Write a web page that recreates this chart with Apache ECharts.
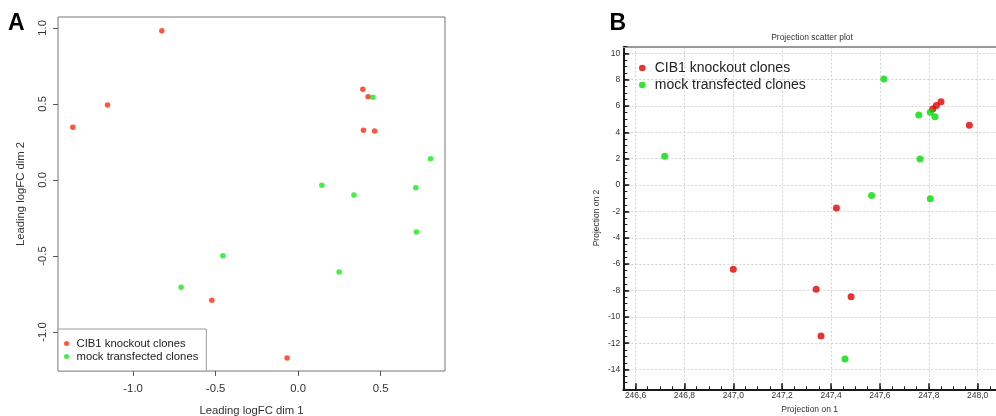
<!DOCTYPE html>
<html>
<head>
<meta charset="utf-8">
<script src="https://cdn.jsdelivr.net/npm/echarts@6/dist/echarts.min.js"></script>
<style>
  html, body { margin: 0; padding: 0; background: #fff; }
  #chart { width: 996px; height: 416px; }
</style>
</head>
<body>
<div id="chart"></div>
<script>
// panel A: MDS plot (leading logFC)
const koA = [[-0.826, 0.982], [-1.155, 0.493], [-1.365, 0.347], [0.392, 0.597], [0.424, 0.548],
  [0.396, 0.327], [0.463, 0.322], [-0.523, -0.792], [-0.067, -1.171]];
const mockA = [[0.453, 0.544], [0.802, 0.140], [0.144, -0.035], [0.338, -0.099], [0.713, -0.051],
  [0.717, -0.342], [0.248, -0.605], [-0.456, -0.498], [-0.709, -0.706]];
const ticksAX = [-1.0, -0.5, 0.0, 0.5];
const ticksAY = [-1.0, -0.5, 0.0, 0.5, 1.0];

// panel B: projection scatter plot
const koB = [[247.0, -6.39], [247.422, -1.74], [247.339, -7.90], [247.482, -8.48], [247.359, -11.46],
  [247.966, 4.54], [247.85, 6.33], [247.831, 6.03], [247.816, 5.78]];
const mockB = [[246.719, 2.195], [247.616, 8.05], [247.759, 5.32], [247.806, 5.53], [247.825, 5.19],
  [247.764, 1.97], [247.566, -0.79], [247.806, -1.04], [247.457, -13.2]];
const ticksBX = [246.6, 246.8, 247.0, 247.2, 247.4, 247.6, 247.8, 248.0];
const ticksBY = [-14, -12, -10, -8, -6, -4, -2, 0, 2, 4, 6, 8, 10];

const names = ['CIB1 knockout clones', 'mock transfected clones'];
const FONT = '"Liberation Sans", Arial, Helvetica, sans-serif';
const colA = ['#ff2a10', '#12ee12'];
const colB = ['#e00000', '#00dd00'];

const chart = echarts.init(document.getElementById('chart'));

const dotted = { color: '#d2d2d2', width: 1, type: [2, 2] };

chart.setOption({
  animation: false,
  textStyle: { fontFamily: FONT },
  title: {
    text: 'Projection scatter plot',
    left: 812, top: 33.5, padding: 0, textAlign: 'center',
    textStyle: { fontSize: 8.5, fontWeight: 'normal', color: '#333', fontFamily: FONT }
  },
  graphic: [
    { type: 'text', left: 8, top: 12, style: { text: 'A', font: 'bold 23px ' + FONT, fill: '#000' } },
    { type: 'text', left: 609.5, top: 12, style: { text: 'B', font: 'bold 23px ' + FONT, fill: '#000' } }
  ],
  legend: [
    {
      orient: 'vertical', left: 58, top: 329, padding: [9, 8, 9, 6],
      itemWidth: 10, itemHeight: 5, itemGap: 2, selectedMode: false,
      borderColor: '#999', borderWidth: 1, backgroundColor: '#fff',
      textStyle: { fontSize: 11.3, color: '#222', fontFamily: FONT },
      data: [
        { name: names[0], icon: 'circle', itemStyle: { color: colA[0] } },
        { name: names[1], icon: 'circle', itemStyle: { color: colA[1] } }
      ]
    },
    {
      orient: 'vertical', left: 639, top: 61, padding: 0,
      itemWidth: 15, itemHeight: 6.5, itemGap: 3, selectedMode: false,
      textStyle: { fontSize: 14, color: '#222', fontFamily: FONT },
      data: [
        { name: names[0], icon: 'circle', itemStyle: { color: colB[0] } },
        { name: names[1], icon: 'circle', itemStyle: { color: colB[1] } }
      ]
    }
  ],
  grid: [
    { left: 58, top: 17, width: 387, height: 354, outerBoundsMode: 'none', containLabel: false,
      show: true, borderColor: '#777', borderWidth: 1, backgroundColor: 'transparent' },
    { left: 623.3, top: 46.7, width: 372.7, height: 342.6, outerBoundsMode: 'none', containLabel: false, show: false }
  ],
  xAxis: [
    {
      gridIndex: 0, type: 'value', position: 'bottom', min: -1.455, max: 0.89,
      name: 'Leading logFC dim 1', nameLocation: 'middle', nameGap: 34,
      nameTextStyle: { fontSize: 11.3, color: '#333', fontFamily: FONT },
      axisLine: { show: false, onZero: false },
      axisTick: { show: true, inside: false, length: 5, customValues: ticksAX, lineStyle: { color: '#555' } },
      axisLabel: { customValues: ticksAX, margin: 12, fontSize: 11.3, color: '#333', formatter: v => v.toFixed(1) },
      splitLine: { show: false }
    },
    {
      gridIndex: 1, type: 'value', position: 'bottom', min: 246.55, max: 248.075,
      name: 'Projection on 1', nameLocation: 'middle', nameGap: 10.5,
      nameTextStyle: { fontSize: 8.5, color: '#333', fontFamily: FONT },
      axisLine: { show: true, onZero: false, lineStyle: { color: '#1a1a1a', width: 2 } },
      axisTick: { show: true, inside: true, length: 6, customValues: ticksBX, lineStyle: { color: '#1a1a1a', width: 1.5 } },
      axisLabel: { customValues: ticksBX, margin: 2, fontSize: 8.5, color: '#333',
        formatter: v => v.toFixed(1).replace('.', ',') },
      splitLine: { show: true, lineStyle: dotted }
    },
    {
      // minor ticks of panel B x axis
      gridIndex: 1, type: 'value', position: 'bottom', min: 246.55, max: 248.075, interval: 0.05,
      axisLine: { show: false, onZero: false },
      axisTick: { show: true, inside: true, length: 3, lineStyle: { color: '#1a1a1a', width: 1 } },
      axisLabel: { show: false }, splitLine: { show: false }
    },
    {
      // grey frame on top of panel B
      gridIndex: 1, type: 'value', position: 'top', min: 246.55, max: 248.075,
      axisLine: { show: true, onZero: false, lineStyle: { color: '#999', width: 2 } },
      axisTick: { show: false }, axisLabel: { show: false }, splitLine: { show: false }
    }
  ],
  yAxis: [
    {
      gridIndex: 0, type: 'value', min: -1.257, max: 1.072,
      name: 'Leading logFC dim 2', nameLocation: 'middle', nameGap: 32,
      nameTextStyle: { fontSize: 11.3, color: '#333', fontFamily: FONT },
      axisLine: { show: false, onZero: false },
      axisTick: { show: true, inside: false, length: 5, customValues: ticksAY, lineStyle: { color: '#555' } },
      axisLabel: { customValues: ticksAY, margin: 10, rotate: 90, fontSize: 11.3, color: '#333', formatter: v => v.toFixed(1) },
      splitLine: { show: false }
    },
    {
      gridIndex: 1, type: 'value', position: 'left', min: -15.5, max: 10.5,
      name: 'Projection on 2', nameLocation: 'middle', nameGap: 22,
      nameTextStyle: { fontSize: 8.5, color: '#333', fontFamily: FONT },
      axisLine: { show: true, onZero: false, lineStyle: { color: '#1a1a1a', width: 2 } },
      axisTick: { show: true, inside: true, length: 6, customValues: ticksBY, lineStyle: { color: '#1a1a1a', width: 1.5 } },
      axisLabel: { customValues: ticksBY, margin: 3, fontSize: 8.5, color: '#333' },
      splitLine: { show: true, lineStyle: dotted }
    },
    {
      // minor ticks of panel B y axis
      gridIndex: 1, type: 'value', position: 'left', min: -15.5, max: 10.5, interval: 0.5,
      axisLine: { show: false, onZero: false },
      axisTick: { show: true, inside: true, length: 4, lineStyle: { color: '#1a1a1a', width: 1 } },
      axisLabel: { show: false }, splitLine: { show: false }
    }
  ],
  series: [
    { name: names[0], type: 'scatter', xAxisIndex: 0, yAxisIndex: 0, data: koA, symbolSize: 5.5, itemStyle: { color: colA[0] } },
    { name: names[1], type: 'scatter', xAxisIndex: 0, yAxisIndex: 0, data: mockA, symbolSize: 5.5, itemStyle: { color: colA[1] } },
    { name: names[0], type: 'scatter', xAxisIndex: 1, yAxisIndex: 1, data: koB, symbolSize: 7, itemStyle: { color: colB[0] } },
    { name: names[1], type: 'scatter', xAxisIndex: 1, yAxisIndex: 1, data: mockB, symbolSize: 7, itemStyle: { color: colB[1] } }
  ]
});
</script>
</body>
</html>
